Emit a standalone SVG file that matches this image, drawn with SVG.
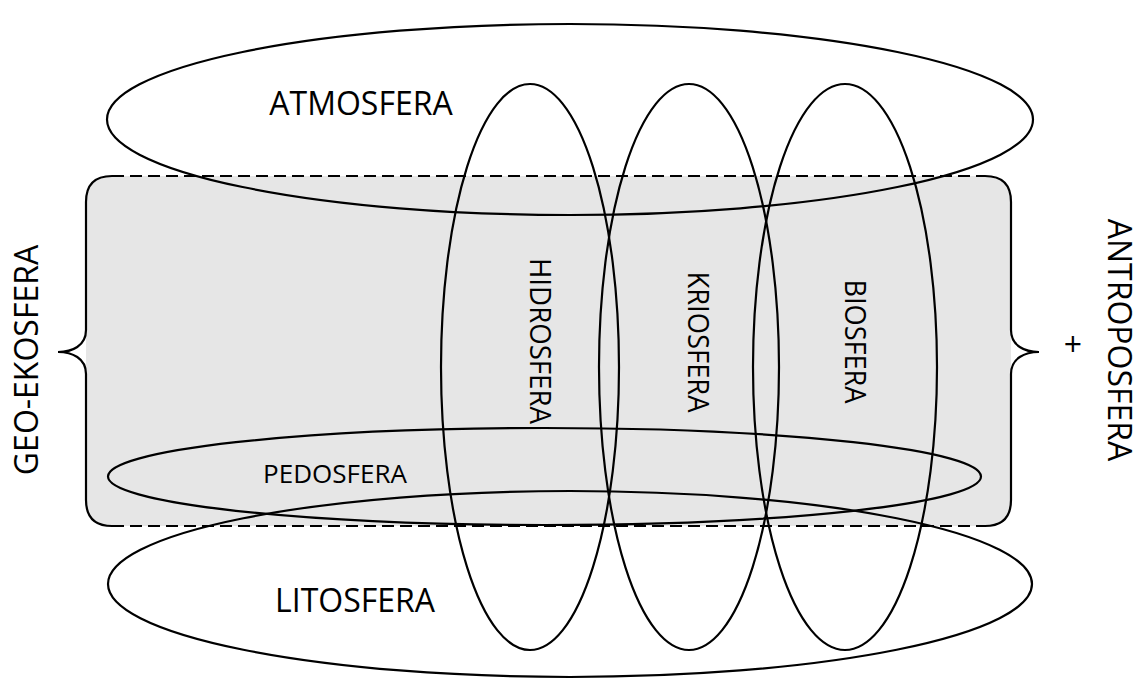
<svg xmlns="http://www.w3.org/2000/svg" width="1142" height="679" viewBox="0 0 1142 679">
  <style>
    .ln { fill: none; stroke: #000; stroke-width: 2.2; }
    .dash { fill: none; stroke: #000; stroke-width: 2.2; stroke-dasharray: 12 6; }
    .t { font-family: "Open Sans", "Noto Sans", sans-serif; fill: #000; text-anchor: middle; }
    .big { font-size: 32px; }
    .mid { font-size: 30px; }
    .sm { font-size: 26px; }
  </style>
  <rect width="1142" height="679" fill="#fff"/>
  <g id="geo-ekosfera-box">
    <path d="M112,176 L985,176 Q1011,176 1011,202 L1011,500 Q1011,526 985,526 L112,526 Q86,526 86,500 L86,202 Q86,176 112,176 Z" fill="#e6e6e6"/>
  </g>
  <g id="connectors">
    <line class="dash" x1="112" y1="176" x2="985" y2="176"/>
    <line class="dash" x1="112" y1="526" x2="985" y2="526"/>
    <path class="ln" d="M112,176 Q86,176 86,202 L86,330 C86,346 72,352 58,352 C72,352 86,358 86,374 L86,500 Q86,526 112,526"/>
    <path class="ln" d="M985,176 Q1011,176 1011,202 L1011,330 C1011,346 1025,352 1039,352 C1025,352 1011,358 1011,374 L1011,500 Q1011,526 985,526"/>
  </g>
  <g id="atmosfera">
    <ellipse class="ln" cx="570" cy="119.5" rx="463" ry="95.5"/>
    <text class="t big" x="361" y="115">ATMOSFERA</text>
  </g>
  <g id="litosfera">
    <ellipse class="ln" cx="570" cy="584" rx="462" ry="93"/>
    <text class="t big" x="355" y="612">LITOSFERA</text>
  </g>
  <g id="pedosfera">
    <ellipse class="ln" cx="544.5" cy="476.5" rx="436.5" ry="48.5"/>
    <text class="t sm" x="335" y="483">PEDOSFERA</text>
  </g>
  <g id="hidrosfera">
    <ellipse class="ln" cx="530" cy="367" rx="89" ry="283"/>
    <text class="t mid" transform="translate(530,341) rotate(90)" textLength="166" lengthAdjust="spacingAndGlyphs">HIDROSFERA</text>
  </g>
  <g id="kriosfera">
    <ellipse class="ln" cx="689" cy="367" rx="90" ry="283"/>
    <text class="t mid" transform="translate(688,342) rotate(90)" textLength="141" lengthAdjust="spacingAndGlyphs">KRIOSFERA</text>
  </g>
  <g id="biosfera">
    <ellipse class="ln" cx="845" cy="367" rx="92" ry="283"/>
    <text class="t mid" transform="translate(845,341.5) rotate(90)" textLength="124" lengthAdjust="spacingAndGlyphs">BIOSFERA</text>
  </g>
  <g id="geo-ekosfera-label">
    <text class="t big" transform="translate(38,360) rotate(-90)">GEO-EKOSFERA</text>
  </g>
  <g id="antroposfera-label">
    <text class="t big" transform="translate(1108,340) rotate(90)">ANTROPOSFERA</text>
    <text class="t big" x="1073" y="356">+</text>
  </g>
</svg>
